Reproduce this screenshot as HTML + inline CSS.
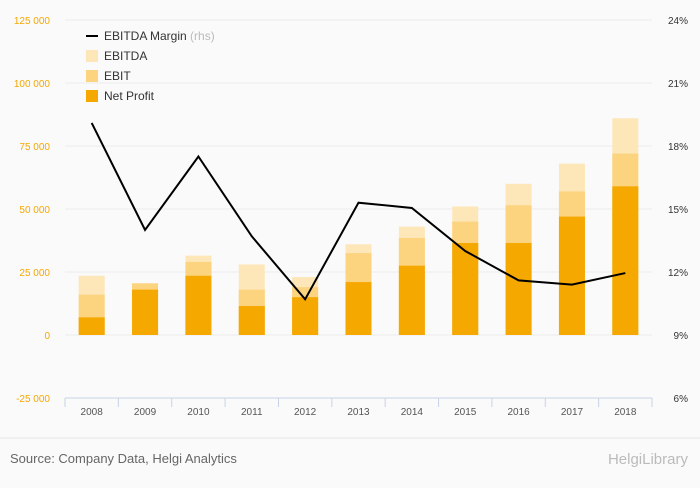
<!DOCTYPE html>
<html><head><meta charset="utf-8"><style>
body{margin:0;background:#fafafa;font-family:"Liberation Sans",sans-serif;}
svg text{font-family:"Liberation Sans",sans-serif;}
</style></head><body>
<svg id="chart" width="700" height="483" xmlns="http://www.w3.org/2000/svg">
<rect width="700" height="483" fill="#fafafa"/>
<g id="grid"></g><g id="bars"></g><g id="line"></g><g id="axes"></g>
<g font-size="12" fill="#333">
<line x1="86" y1="36" x2="98" y2="36" stroke="#000" stroke-width="2"/>
<text x="104" y="40">EBITDA Margin <tspan fill="#bbb">(rhs)</tspan></text>
<rect x="86" y="50" width="12" height="12" fill="#fde7b8"/><text x="104" y="60">EBITDA</text>
<rect x="86" y="70" width="12" height="12" fill="#fcd47f"/><text x="104" y="80">EBIT</text>
<rect x="86" y="90" width="12" height="12" fill="#f5a800"/><text x="104" y="100">Net Profit</text>
</g>
<line x1="0" y1="438" x2="700" y2="438" stroke="#e6e6e6"/>
<text x="10" y="463" font-size="13" fill="#666">Source: Company Data, Helgi Analytics</text>
<text x="688" y="464" font-size="15" fill="#bbb" text-anchor="end">HelgiLibrary</text>
</svg>
<script>
const categories=["2008","2009","2010","2011","2012","2013","2014","2015","2016","2017","2018"];
const netProfit=[7000,18000,23500,11500,15000,21000,27500,36500,36500,47000,59000];
const ebit=[16000,20500,29000,18000,19000,32500,38500,45000,51500,57000,72000];
const ebitda=[23500,20500,31500,28000,23000,36000,43000,51000,60000,68000,86000];
const margin=[19.1,14.0,17.5,13.7,10.7,15.3,15.05,13.0,11.6,11.4,11.95];
const leftTicks=[-25000,0,25000,50000,75000,100000,125000];
const rightTicks=[6,9,12,15,18,21,24];
(function(){
const NS="http://www.w3.org/2000/svg";
const plotTop=20,plotBot=398,x0=65,x1=652;
const yL=v=>plotTop+(125000-v)/150000*(plotBot-plotTop);
const yR=v=>plotTop+(24-v)/18*(plotBot-plotTop);
const step=(x1-x0)/categories.length;
const xC=i=>x0+step*(i+0.5);
function mk(tag,attrs,parent){const e=document.createElementNS(NS,tag);for(const k in attrs)e.setAttribute(k,attrs[k]);document.getElementById(parent).appendChild(e);return e;}
const fmt=v=>{const s=Math.abs(v).toString().replace(/\B(?=(\d{3})+(?!\d))/g," ");return (v<0?"-":"")+s;};
leftTicks.forEach(t=>{
 if(t>-25000){
 const l=mk("line",{x1:x0,x2:x1,y1:yL(t),y2:yL(t),stroke:"#ececec"},"grid");
 
 
 }
 const tx=mk("text",{x:50,y:yL(t)+4,"text-anchor":"end","font-size":"10",fill:"#f5a800"},"axes");
 tx.textContent=fmt(t);
 
 
});
rightTicks.forEach(t=>{
 const tx=mk("text",{x:688,y:yR(t)+4,"text-anchor":"end","font-size":"10",fill:"#333"},"axes");
 tx.textContent=t+"%";
 
 
});
const ax=mk("line",{x1:x0,x2:x1,y1:plotBot,y2:plotBot,stroke:"#c8d4e6"},"axes");


const bw=26;
categories.forEach((c,i)=>{
 [[ebitda[i],"#fde7b8","bar-ebitda"],[ebit[i],"#fcd47f","bar-ebit"],[netProfit[i],"#f5a800","bar-net-profit"]].forEach(([v,col,n])=>{
  const r=mk("rect",{x:xC(i)-bw/2,y:yL(v),width:bw,height:yL(0)-yL(v),fill:col},"bars");
  
  
 });
 const tk=mk("line",{x1:x0+step*i,x2:x0+step*i,y1:plotBot,y2:plotBot+9,stroke:"#c8d4e6"},"axes");
 
 
 const tx=mk("text",{x:xC(i),y:plotBot+17,"text-anchor":"middle","font-size":"10",fill:"#555"},"axes");
 tx.textContent=c;
 
 
});
const tkEnd=mk("line",{x1:x1,x2:x1,y1:plotBot,y2:plotBot+9,stroke:"#c8d4e6"},"axes");


const p=mk("polyline",{points:margin.map((m,i)=>xC(i)+","+yR(m)).join(" "),fill:"none",stroke:"#000","stroke-width":"2"},"line");


})();
</script>
</body></html>
